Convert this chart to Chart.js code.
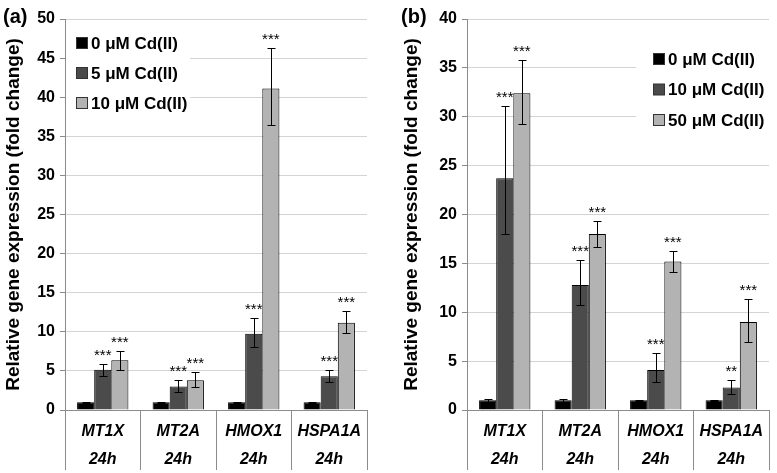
<!DOCTYPE html>
<html><head><meta charset="utf-8">
<script src="https://cdn.jsdelivr.net/npm/chart.js@4.4.0/dist/chart.umd.min.js"></script>
<style>
html,body{margin:0;padding:0;background:#fff;}
#wrap{position:relative;width:777px;height:473px;overflow:hidden;background:#fff}
.pane{position:absolute;top:0;height:473px}
#pa{left:0;width:388px}
#pb{left:388px;width:389px}
</style></head><body>
<div id="wrap"><div class="pane" id="pa"><canvas id="ca"></canvas></div><div class="pane" id="pb"><canvas id="cb"></canvas></div></div>
<script>
// ---------- data ----------
const genes = ['MT1X', 'MT2A', 'HMOX1', 'HSPA1A'];
const timeLabel = '24h';
const yTitle = 'Relative gene expression (fold change)';

// panel (a)
const aSeriesLabels = ['0 μM Cd(II)', '5 μM Cd(II)', '10 μM Cd(II)'];
const a0 = [1.0, 1.0, 1.0, 1.0];
const a0Lo = [0.95, 0.95, 0.95, 0.95];
const a0Hi = [1.05, 1.05, 1.05, 1.05];
const a5 = [5.15, 3.0, 9.75, 4.3];
const a5Lo = [4.4, 2.25, 8.0, 3.6];
const a5Hi = [5.9, 3.8, 11.8, 5.1];
const a10 = [6.35, 3.8, 41.1, 11.15];
const a10Lo = [5.15, 2.9, 36.4, 9.8];
const a10Hi = [7.6, 4.8, 46.3, 12.6];
const a5Sig = ['***', '***', '***', '***'];
const a10Sig = ['***', '***', '***', '***'];
const aYMax = 50, aYStep = 5;

// panel (b)
const bSeriesLabels = ['0 μM Cd(II)', '10 μM Cd(II)', '50 μM Cd(II)'];
const b0 = [1.0, 1.0, 1.0, 1.0];
const b0Lo = [0.85, 0.85, 0.95, 0.95];
const b0Hi = [1.15, 1.15, 1.05, 1.05];
const b10 = [23.7, 12.8, 4.1, 2.3];
const b10Lo = [18.0, 10.7, 2.9, 1.65];
const b10Hi = [31.1, 15.3, 5.8, 3.1];
const b50 = [32.4, 18.0, 15.2, 9.0];
const b50Lo = [29.3, 16.7, 14.15, 7.0];
const b50Hi = [35.8, 19.35, 16.3, 11.4];
const b10Sig = ['***', '***', '***', '**'];
const b50Sig = ['***', '***', '***', '***'];
const bYMax = 40, bYStep = 5;

const colors = ['#000000', '#4b4b4b', '#b3b3b3'];

// ---------- plugin ----------
const extras = {
  id: 'extras',
  afterDatasetsDraw(chart) {
    const ctx = chart.ctx, y = chart.scales.y;
    chart.data.datasets.forEach((ds, di) => {
      const meta = chart.getDatasetMeta(di);
      meta.data.forEach((bar, i) => {
        const x = Math.round(bar.x) + 0.5;
        const lo = Math.round(y.getPixelForValue(ds.errLo[i])) + 0.5;
        const hi = Math.round(y.getPixelForValue(ds.errHi[i])) + 0.5;
        ctx.save();
        ctx.strokeStyle = '#000'; ctx.lineWidth = 1;
        ctx.beginPath();
        ctx.moveTo(x, lo); ctx.lineTo(x, hi);
        ctx.moveTo(x - 4, lo); ctx.lineTo(x + 4, lo);
        ctx.moveTo(x - 4, hi); ctx.lineTo(x + 4, hi);
        ctx.stroke();
        if (ds.sig && ds.sig[i]) {
          ctx.fillStyle = '#000';
          ctx.font = '15px Arial, "Liberation Sans"';
          ctx.textAlign = 'center'; ctx.textBaseline = 'alphabetic';
          ctx.fillText(ds.sig[i], bar.x, hi - 5);
        }
        ctx.restore();
      });
    });
  },
  afterDraw(chart, args, o) {
    const ctx = chart.ctx;
    ctx.save();
    // legend white box
    ctx.fillStyle = '#fff';
    ctx.fillRect(o.box[0], o.box[1], o.box[2], o.box[3]);
    ctx.font = 'bold 17px Arial, "Liberation Sans"';
    ctx.textBaseline = 'middle'; ctx.textAlign = 'left';
    chart.data.datasets.forEach((ds, i) => {
      const yy = o.ly + i * o.dy;
      ctx.fillStyle = ds.backgroundColor;
      ctx.fillRect(o.lx + 0.5, yy - 5.5, 11, 11);
      ctx.strokeStyle = '#333'; ctx.lineWidth = 1;
      ctx.strokeRect(o.lx + 0.5, yy - 5.5, 11, 11);
      ctx.fillStyle = '#000';
      ctx.fillText(ds.label, o.lx + 15, yy + 1);
    });
    // panel label
    ctx.font = 'bold 20px Arial, "Liberation Sans"';
    ctx.textBaseline = 'alphabetic';
    ctx.fillText(o.panel, o.px, 23);
    ctx.restore();
  }
};

function makeChart(id, series, lows, highs, sigs, labels, yMax, yStep, axisW, titlePad, padRight, ext) {
  const datasets = series.map((d, i) => ({
    label: labels[i], data: d, errLo: lows[i], errHi: highs[i], sig: sigs[i],
    backgroundColor: colors[i], borderColor: '#000', borderWidth: 1,
    barPercentage: 1.0, categoryPercentage: 0.68
  }));
  return new Chart(document.getElementById(id), {
    type: 'bar',
    data: { labels: genes.map(g => [g, timeLabel]), datasets },
    plugins: [extras],
    options: {
      responsive: true, maintainAspectRatio: false, animation: false,
      layout: { padding: { top: 19, right: padRight, bottom: 0, left: 0 } },
      plugins: { legend: { display: false }, tooltip: { enabled: false }, extras: ext },
      scales: {
        x: {
          grid: { display: true, offset: true, drawOnChartArea: false, tickLength: 60, tickColor: '#8c8c8c', lineWidth: 1 },
          border: { display: true, color: '#8c8c8c' },
          ticks: {
            autoSkip: false, maxRotation: 0, minRotation: 0, padding: -52, color: '#000',
            font: { family: 'Arial, "Liberation Sans"', size: 16, weight: 'bold', style: 'italic', lineHeight: 1.75 }
          },
          afterFit(s) { s.height = 63; }
        },
        y: {
          min: 0, max: yMax,
          grid: { color: '#d4d4d4', lineWidth: 1, tickLength: 5, tickColor: '#8c8c8c' },
          border: { display: true, color: '#8c8c8c' },
          ticks: { stepSize: yStep, padding: 5, color: '#000',
            font: { family: 'Arial, "Liberation Sans"', size: 16, weight: 'bold' } },
          title: { display: true, text: yTitle, color: '#000', padding: { top: titlePad, bottom: 0 },
            font: { family: 'Arial, "Liberation Sans"', size: 19, weight: 'bold' } },
          afterFit(s) { s.width = axisW; }
        }
      }
    }
  });
}

makeChart('ca', [a0, a5, a10], [a0Lo, a5Lo, a10Lo], [a0Hi, a5Hi, a10Hi], [null, a5Sig, a10Sig],
  aSeriesLabels, aYMax, aYStep, 65, 2, 21,
  { box: [66, 22, 124, 95], lx: 76, ly: 43, dy: 30, panel: '(a)', px: 3 });
makeChart('cb', [b0, b10, b50], [b0Lo, b10Lo, b50Lo], [b0Hi, b10Hi, b50Hi], [null, b10Sig, b50Sig],
  bSeriesLabels, bYMax, bYStep, 79, 12, 8,
  { box: [248, 38, 133, 98], lx: 265, ly: 59, dy: 30.5, panel: '(b)', px: 13 });
</script>
</body></html>
